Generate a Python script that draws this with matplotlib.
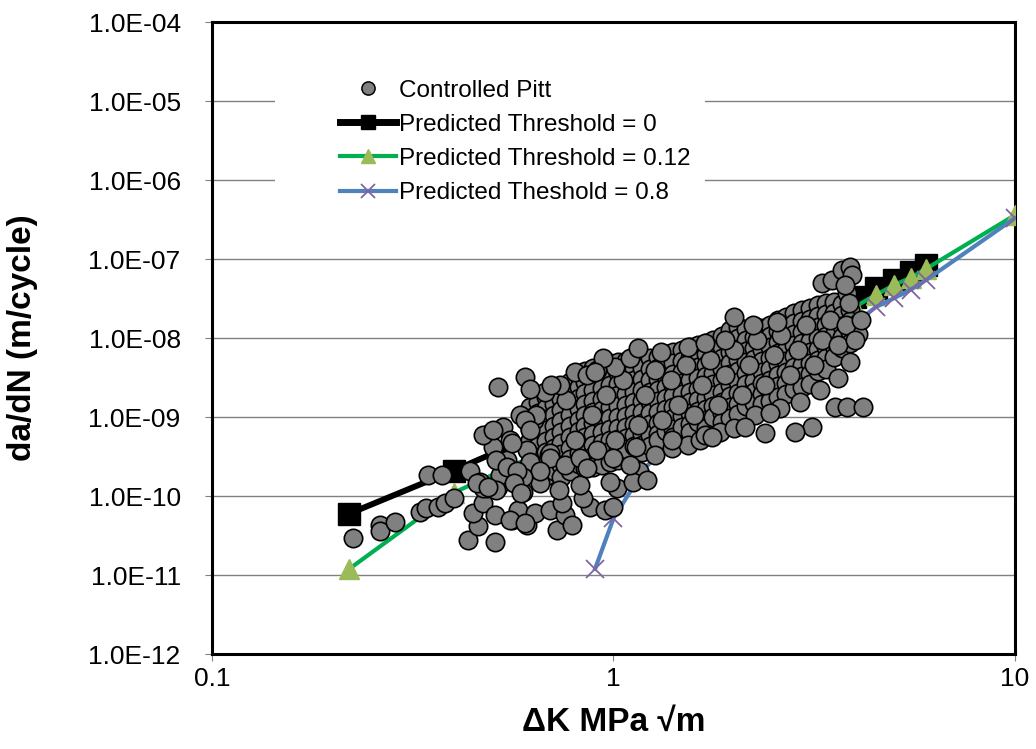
import matplotlib
matplotlib.use("Agg")
import matplotlib.pyplot as plt
from matplotlib.lines import Line2D
from matplotlib.patches import Rectangle
from matplotlib.ticker import FixedLocator, FuncFormatter, NullLocator

plt.rcParams['font.family'] = ['Liberation Sans', 'DejaVu Sans']

# Controlled Pitt test data - dense band, one ΔK column each
band_dk = [0.62, 0.65, 0.68, 0.71, 0.74, 0.78, 0.82, 0.85, 0.89, 0.935,
           0.98, 1.025, 1.075, 1.125, 1.18, 1.23, 1.29, 1.35, 1.41, 1.48,
           1.55, 1.62, 1.70, 1.77, 1.86, 1.95, 2.04, 2.14, 2.24, 2.34,
           2.45, 2.57, 2.69, 2.82, 2.95, 3.09, 3.23, 3.39, 3.55, 3.71,
           3.88, 4.06]
band_rate = [
    [1.34e-9, 0.97e-9, 7.0e-10, 5.1e-10, 3.7e-10, 2.7e-10, 2.0e-10],
    [1.55e-9, 1.12e-9, 8.1e-10, 5.9e-10, 4.3e-10, 3.1e-10, 2.27e-10],
    [1.8e-9, 1.3e-9, 9.4e-10, 6.85e-10, 5.0e-10, 3.6e-10, 2.6e-10, 1.8e-10],
    [2.0e-9, 1.46e-9, 1.06e-9, 7.7e-10, 5.6e-10, 4.05e-10, 2.95e-10, 2.1e-10],
    [2.3e-9, 1.7e-9, 1.23e-9, 8.9e-10, 6.45e-10, 4.7e-10, 3.4e-10, 2.5e-10, 1.74e-10],
    [2.8e-9, 2.0e-9, 1.46e-9, 1.06e-9, 7.7e-10, 5.6e-10, 4.05e-10, 2.95e-10, 2.1e-10],
    [3.3e-9, 2.4e-9, 1.74e-9, 1.27e-9, 9.2e-10, 6.65e-10, 4.8e-10, 3.5e-10, 2.55e-10],
    [3.8e-9, 2.8e-9, 2.0e-9, 1.46e-9, 1.06e-9, 7.7e-10, 5.6e-10, 4.05e-10, 2.95e-10, 2.27e-10],
    [4.2e-9, 3.0e-9, 2.2e-9, 1.6e-9, 1.16e-9, 8.4e-10, 6.1e-10, 4.4e-10, 3.2e-10, 2.3e-10],
    [4.4e-9, 3.2e-9, 2.3e-9, 1.7e-9, 1.23e-9, 8.9e-10, 6.45e-10, 4.7e-10, 3.4e-10, 2.5e-10],
    [4.8e-9, 3.5e-9, 2.55e-9, 1.85e-9, 1.34e-9, 9.7e-10, 7.0e-10, 5.1e-10, 3.7e-10, 2.7e-10],
    [5.0e-9, 3.6e-9, 2.6e-9, 1.9e-9, 1.38e-9, 1.0e-9, 7.3e-10, 5.3e-10, 3.8e-10, 2.85e-10],
    [5.1e-9, 3.7e-9, 2.7e-9, 1.96e-9, 1.42e-9, 1.03e-9, 7.5e-10, 5.4e-10, 3.9e-10],
    [5.6e-9, 4.05e-9, 2.95e-9, 2.1e-9, 1.55e-9, 1.12e-9, 8.1e-10, 5.9e-10, 4.3e-10],
    [5.75e-9, 4.2e-9, 3.0e-9, 2.2e-9, 1.6e-9, 1.16e-9, 8.4e-10, 6.1e-10, 4.4e-10, 3.6e-10],
    [5.6e-9, 4.05e-9, 2.95e-9, 2.1e-9, 1.55e-9, 1.12e-9, 8.1e-10, 5.9e-10, 4.3e-10],
    [5.75e-9, 4.2e-9, 3.0e-9, 2.2e-9, 1.6e-9, 1.16e-9, 8.4e-10, 6.1e-10, 5.1e-10],
    [6.3e-9, 4.6e-9, 3.3e-9, 2.4e-9, 1.74e-9, 1.27e-9, 9.2e-10, 6.65e-10],
    [6.65e-9, 4.8e-9, 3.5e-9, 2.55e-9, 1.85e-9, 1.34e-9, 9.7e-10, 7.0e-10, 5.6e-10],
    [7.05e-9, 5.1e-9, 3.7e-9, 2.7e-9, 1.96e-9, 1.42e-9, 1.03e-9, 7.5e-10],
    [7.7e-9, 5.6e-9, 4.05e-9, 2.95e-9, 2.1e-9, 1.55e-9, 1.12e-9, 8.1e-10, 6.45e-10],
    [8.15e-9, 5.9e-9, 4.3e-9, 3.1e-9, 2.27e-9, 1.64e-9, 1.19e-9, 8.6e-10],
    [8.6e-9, 6.3e-9, 4.6e-9, 3.3e-9, 2.4e-9, 1.74e-9, 1.27e-9, 9.2e-10, 7.3e-10],
    [9.4e-9, 6.85e-9, 5.0e-9, 3.6e-9, 2.6e-9, 1.9e-9, 1.38e-9, 1.0e-9],
    [1.06e-8, 7.7e-9, 5.6e-9, 4.05e-9, 2.95e-9, 2.1e-9, 1.55e-9, 1.12e-9, 8.6e-10],
    [1.27e-8, 9.2e-9, 6.65e-9, 4.8e-9, 3.5e-9, 2.55e-9, 1.85e-9, 1.34e-9, 9.7e-10],
    [1.38e-8, 1.0e-8, 7.25e-9, 5.3e-9, 3.8e-9, 2.8e-9, 2.0e-9, 1.46e-9, 1.09e-9],
    [1.3e-8, 9.4e-9, 6.85e-9, 5.0e-9, 3.6e-9, 2.6e-9, 1.9e-9, 1.38e-9],
    [1.42e-8, 1.03e-8, 7.45e-9, 5.4e-9, 3.95e-9, 2.85e-9, 2.07e-9, 1.5e-9],
    [1.34e-8, 9.7e-9, 7.05e-9, 5.1e-9, 3.7e-9, 2.7e-9, 1.96e-9, 1.46e-9],
    [1.46e-8, 1.06e-8, 7.7e-9, 5.6e-9, 4.05e-9, 2.95e-9, 2.1e-9, 1.6e-9],
    [1.69e-8, 1.23e-8, 8.9e-9, 6.45e-9, 4.7e-9, 3.4e-9, 2.47e-9, 1.8e-9],
    [1.85e-8, 1.34e-8, 9.7e-9, 7.05e-9, 5.1e-9, 3.7e-9, 2.7e-9, 1.96e-9],
    [2.1e-8, 1.55e-8, 1.12e-8, 8.15e-9, 5.9e-9, 4.3e-9, 3.1e-9, 2.27e-9],
    [2.27e-8, 1.64e-8, 1.19e-8, 8.6e-9, 6.3e-9, 4.6e-9, 3.3e-9, 2.4e-9],
    [2.4e-8, 1.74e-8, 1.27e-8, 9.2e-9, 6.65e-9, 4.8e-9, 3.5e-9, 2.6e-9],
    [2.6e-8, 1.9e-8, 1.38e-8, 1.0e-8, 7.25e-9, 5.3e-9, 3.8e-9],
    [2.77e-8, 2.0e-8, 1.46e-8, 1.06e-8, 7.7e-9, 5.6e-9, 4.05e-9],
    [2.85e-8, 2.07e-8, 1.5e-8, 1.09e-8, 7.9e-9, 5.75e-9],
    [2.7e-8, 1.96e-8, 1.42e-8, 1.03e-8, 7.45e-9],
    [2.27e-8, 1.64e-8, 1.19e-8, 8.6e-9],
    [1.55e-8, 1.12e-8],
]

# Controlled Pitt - irregular points inside / along the band
fill_dk = [0.634, 0.69, 0.76, 0.80, 0.885, 0.96, 1.01, 1.055, 1.15, 1.20,
           1.27, 1.32, 1.39, 1.45, 1.52, 1.59, 1.66, 1.74, 1.82, 1.90,
           2.0, 2.09, 2.18, 2.28, 2.39, 2.51, 2.62, 2.75, 2.88, 3.02,
           3.16, 3.30, 3.46, 3.62, 3.79, 3.99, 4.14,
           1.16, 1.27, 1.40, 1.53, 1.64, 1.84, 2.0, 2.25, 2.60, 2.91,
           3.27, 3.62, 3.88,
           0.675, 0.736, 0.80, 1.01, 0.91, 1.31, 1.53, 1.69, 1.90, 2.22,
           2.55, 0.94, 1.10, 1.15, 0.86, 0.90, 1.69]
fill_rate = [9.2e-10, 3.3e-10, 1.64e-9, 5.1e-10, 1.06e-9, 1.9e-9, 5.1e-10, 2.95e-9, 7.9e-10, 1.9e-9,
             3.95e-9, 9.2e-10, 2.95e-9, 1.42e-9, 4.55e-9, 1.06e-9, 2.55e-9, 5.3e-9, 1.42e-9, 3.4e-9,
             7.05e-9, 1.9e-9, 4.55e-9, 9.4e-9, 2.55e-9, 6.1e-9, 1.09e-8, 3.4e-9, 7.05e-9, 1.46e-8,
             4.55e-9, 9.4e-9, 1.69e-8, 8.15e-9, 1.46e-8, 9.4e-9, 1.69e-8,
             2.1e-10, 3.3e-10, 4.05e-10, 4.4e-10, 5.1e-10, 6.45e-10, 7.25e-10, 1.06e-9, 1.3e-9, 1.55e-9,
             2.2e-9, 3.1e-9, 4.97e-9,
             2.07e-9, 2.55e-9, 3.7e-9, 4.3e-9, 3.95e-9, 6.65e-9, 7.7e-9, 8.6e-9, 9.4e-9, 1.46e-8,
             1.6e-8, 5.6e-9, 5.6e-9, 7.5e-9, 3.4e-9, 3.7e-9, 5.9e-10]

# Controlled Pitt - scattered points around the band
loose_dk = [0.224, 0.262, 0.262, 0.286, 0.330, 0.342, 0.366, 0.380, 0.400, 0.345,
            0.374, 0.434, 0.507, 0.46, 0.447, 0.472, 0.507, 0.44, 0.465, 0.483,
            0.515, 0.521, 0.542, 0.492, 0.53, 0.552, 0.50, 0.585, 0.64, 0.61,
            0.695, 0.515, 0.602, 0.62, 0.70, 0.56, 0.578, 0.61, 0.637, 0.695,
            0.725, 0.757, 0.79, 0.745, 0.874, 0.952, 1.0, 0.84, 1.02, 1.12,
            1.21, 0.98, 0.826, 0.73, 0.656, 0.595, 0.569, 0.62, 0.695, 0.757,
            0.826, 0.86, 0.91, 1.0, 1.1, 1.14, 0.656, 0.595, 0.472, 0.50,
            0.56, 0.602, 0.62, 0.51, 0.542, 0.574, 0.472, 0.51, 0.565, 0.59,
            0.552, 0.602, 0.457, 0.486,
            2.0, 3.30, 3.5, 3.7, 3.88, 3.93, 3.82, 3.85, 3.77,
            3.56, 3.82, 4.18, 3.12, 2.83, 2.38, 2.13, 1.76, 2.45, 1.40]
loose_rate = [2.95e-11, 4.3e-11, 3.6e-11, 4.7e-11, 6.3e-11, 7.05e-11, 7.25e-11, 8.15e-11, 9.4e-11, 1.85e-10,
              1.85e-10, 2.77e-11, 2.6e-11, 4.2e-11, 6.1e-11, 8.15e-11, 5.75e-11, 2.1e-10, 1.5e-10, 1.27e-10,
              1.3e-10, 1.85e-10, 2.85e-10, 6.3e-10, 7.5e-10, 5.1e-10, 4.2e-10, 1.06e-9, 1.06e-9, 3.8e-10,
              3.5e-10, 2.4e-9, 3.2e-9, 2.27e-9, 2.55e-9, 4.97e-11, 6.65e-11, 4.3e-11, 6.1e-11, 6.65e-11,
              3.7e-11, 5.75e-11, 4.3e-11, 8.15e-11, 7.25e-11, 6.65e-11, 7.25e-11, 9.4e-11, 1.27e-10, 1.5e-10,
              1.6e-10, 1.5e-10, 1.38e-10, 1.19e-10, 1.46e-10, 1.12e-10, 1.46e-10, 2.7e-10, 3.0e-10, 2.47e-10,
              3.0e-10, 2.27e-10, 3.8e-10, 3.0e-10, 2.47e-10, 4.2e-10, 2.1e-10, 1.74e-10, 5.9e-10, 6.85e-10,
              4.7e-10, 9.2e-10, 6.85e-10, 2.85e-10, 2.33e-10, 2.1e-10, 1.27e-10, 1.19e-10, 1.46e-10, 1.09e-10,
              4.97e-11, 4.55e-11, 1.46e-10, 1.3e-10,
              1.85e-8, 5.0e-8, 5.4e-8, 7.3e-8, 7.9e-8, 6.3e-8, 3.7e-8, 2.77e-8, 4.7e-8,
              1.34e-9, 1.34e-9, 1.34e-9, 7.5e-10, 6.45e-10, 6.3e-10, 7.5e-10, 5.6e-10, 1.12e-9, 5.1e-10]

# predicted curves
thr0_dk = [0.22, 0.4, 0.75, 1, 1.2, 1.5, 2, 3, 4, 4.5, 5, 5.5, 6]
thr0_rate = [6.0e-11, 2.1e-10, 8.5e-10, 1.7e-9, 2.5e-9, 4.1e-9, 7.8e-9, 1.8e-8, 3.3e-8, 4.3e-8, 5.4e-8, 6.8e-8, 8.4e-8]

thr012_dk = [0.22, 0.4, 0.75, 1, 1.2, 1.5, 2, 3, 4, 4.5, 5, 5.5, 6, 10]
thr012_rate = [1.2e-11, 1.1e-10, 4.8e-10, 1.1e-9, 1.8e-9, 3.2e-9, 6.5e-9, 1.6e-8, 2.5e-8, 3.5e-8, 4.7e-8, 5.8e-8, 7.5e-8, 3.6e-7]

thr08_dk = [0.9, 1, 1.2, 1.5, 2, 3, 4, 4.5, 5, 5.5, 6, 10]
thr08_rate = [1.2e-11, 5.2e-11, 2.3e-10, 6.5e-10, 2.4e-9, 8.5e-9, 1.55e-8, 2.46e-8, 3.2e-8, 4.1e-8, 5.4e-8, 3.3e-7]

labels = ["Controlled Pitt", "Predicted Threshold = 0",
          "Predicted Threshold = 0.12", "Predicted Theshold = 0.8"]

pitt_dk = []
pitt_rate = []
for dk, col in zip(band_dk, band_rate):
    for r in col:
        pitt_dk.append(dk)
        pitt_rate.append(r)
pitt_dk += fill_dk + loose_dk
pitt_rate += fill_rate + loose_rate

fig = plt.figure(figsize=(10.36, 7.49), dpi=100)
ax = fig.add_axes([0.2046, 0.1268, 0.7751, 0.8438])
ax.set_xscale('log')
ax.set_yscale('log')
ax.set_xlim(0.1, 10)
ax.set_ylim(1e-12, 1e-4)

ax.plot(thr0_dk, thr0_rate, color='black', lw=4.3, marker='s', ms=15.5,
        mfc='black', mec='black', zorder=3)
ax.plot(thr012_dk, thr012_rate, color='#00B050', lw=3, marker='^', ms=14,
        mfc='#9BBB59', mec='#9BBB59', zorder=4)
ax.plot(thr08_dk, thr08_rate, color='#4F81BD', lw=3, marker='x', ms=13,
        mec='#8064A2', mew=1.3, zorder=5)
ax.scatter(pitt_dk, pitt_rate, s=175, c='#808080', edgecolors='black',
           linewidths=1.2, zorder=6)

# axes styling
ax.set_axisbelow(True)
ax.yaxis.grid(True, color='#808080', lw=1)
ax.xaxis.set_major_locator(FixedLocator([0.1, 1, 10]))
ax.xaxis.set_minor_locator(NullLocator())
ax.yaxis.set_major_locator(FixedLocator([10.0 ** e for e in range(-12, -3)]))
ax.yaxis.set_minor_locator(NullLocator())
ax.xaxis.set_major_formatter(FuncFormatter(lambda v, p: f"{v:g}"))
ax.yaxis.set_major_formatter(FuncFormatter(lambda v, p: f"{v:.1E}"))
ax.tick_params(axis='both', which='major', direction='out', length=5,
               color='#808080', labelsize=19)
ax.tick_params(axis='y', pad=17.5)
ax.tick_params(axis='x', pad=4)
for s in ax.spines.values():
    s.set_linewidth(2.2)
    s.set_color('black')

ax.set_xlabel('ΔK MPa √m', fontsize=24, fontweight='bold', va='center')
ax.xaxis.set_label_coords(0.5, -0.108)
ax.set_ylabel('da/dN (m/cycle)', fontsize=24, fontweight='bold', va='center')
ax.yaxis.set_label_coords(-0.2354, 0.5)

# white block behind legend
ax.add_patch(Rectangle((0.078, 0.70), 0.536, 0.25, transform=ax.transAxes,
                       facecolor='white', edgecolor='none', zorder=1.5))
handles = [
    Line2D([], [], ls='none', marker='o', ms=9.5, mfc='#808080', mec='black', mew=1.1),
    Line2D([], [], color='black', lw=5, marker='s', ms=9.5, mfc='black', mec='black'),
    Line2D([], [], color='#00B050', lw=3, marker='^', ms=10, mfc='#9BBB59', mec='#9BBB59'),
    Line2D([], [], color='#4F81BD', lw=3, marker='x', ms=10, mec='#8064A2', mew=1.3),
]
ax.legend(handles, labels, loc='upper left', bbox_to_anchor=(0.159, 0.909),
          frameon=False, fontsize=17.5, handlelength=2.3, handletextpad=0.15,
          labelspacing=0.5, borderaxespad=0, borderpad=0)

fig.savefig('out.png', dpi=100)
